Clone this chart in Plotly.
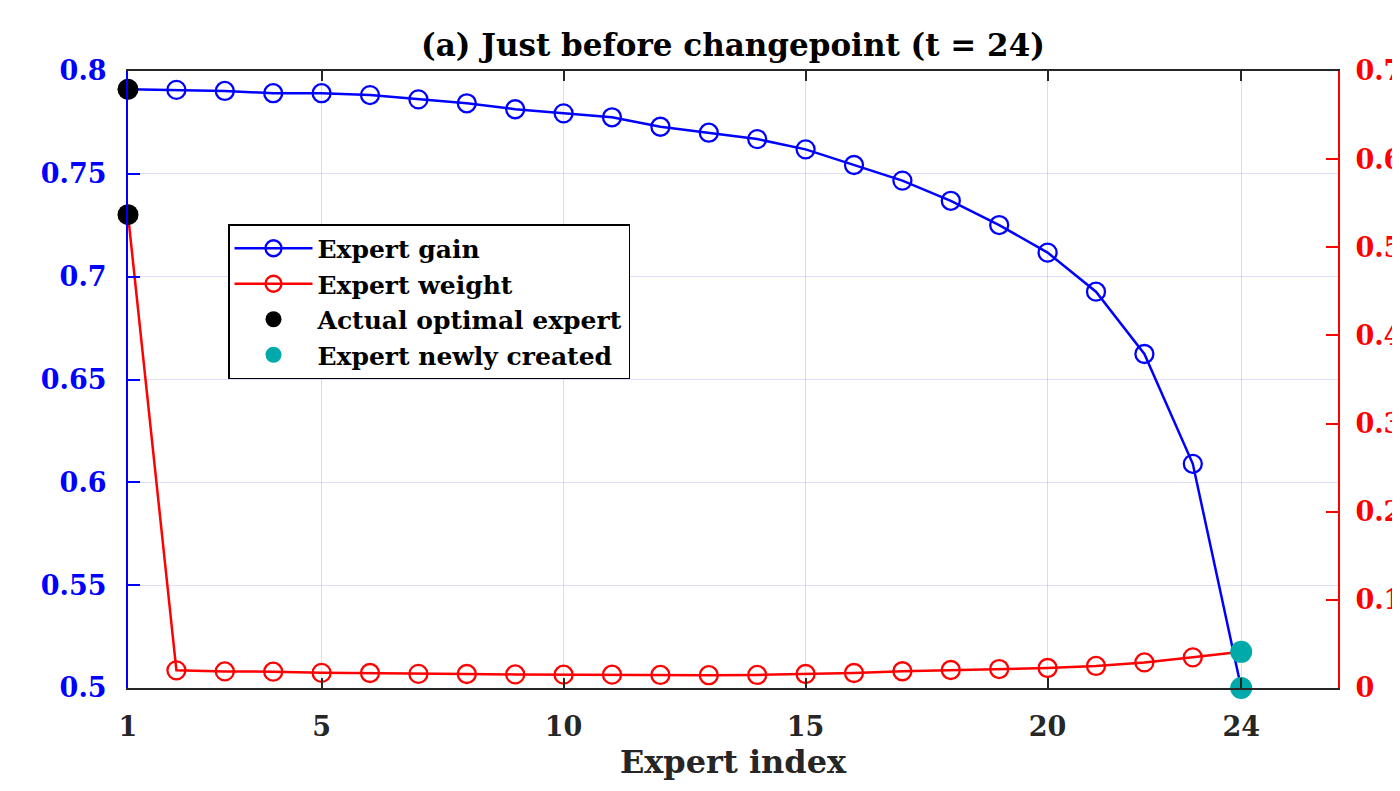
import plotly.graph_objects as go

expert_index = list(range(1, 25))
expert_gain = [0.7911, 0.7908, 0.7903, 0.7892, 0.7892, 0.7883, 0.7862, 0.7843, 0.7814, 0.7794,
               0.7775, 0.7729, 0.7700, 0.7669, 0.7619, 0.7543, 0.7467, 0.7369, 0.7251, 0.7117,
               0.6927, 0.6624, 0.6090, 0.5000]
expert_weight = [0.537, 0.0200, 0.0188, 0.0185, 0.0172, 0.0170, 0.0160, 0.0159, 0.0154, 0.0151,
                 0.0151, 0.0148, 0.0145, 0.0148, 0.0159, 0.0170, 0.0190, 0.0204, 0.0215, 0.0227,
                 0.0250, 0.0290, 0.0348, 0.0410]
optimal_idx = [1]
new_idx = [24]

x_ticks = [1, 5, 10, 15, 20, 24]
y_ticks = [0.5, 0.55, 0.6, 0.65, 0.7, 0.75, 0.8]
y_tick_text = ["0.5", "0.55", "0.6", "0.65", "0.7", "0.75", "0.8"]
y2_ticks = [0, 0.1, 0.2, 0.3, 0.4, 0.5, 0.6, 0.7]
y2_tick_text = ["0", "0.1", "0.2", "0.3", "0.4", "0.5", "0.6", "0.7"]

FONT = "DejaVu Serif"
BLUE = "#0000FF"
RED = "#FF0000"
DARK = "#262626"
CYAN = "rgb(0,170,170)"

fig = go.Figure()

fig.add_trace(go.Scatter(
    x=expert_index, y=expert_gain, name="Expert gain", mode="lines+markers",
    line=dict(color=BLUE, width=2.5),
    marker=dict(symbol="circle-open", size=18, color=BLUE, line=dict(width=2.3, color=BLUE)),
    yaxis="y", cliponaxis=False))
fig.add_trace(go.Scatter(
    x=expert_index, y=expert_weight, name="Expert weight", mode="lines+markers",
    line=dict(color=RED, width=2.5),
    marker=dict(symbol="circle-open", size=18, color=RED, line=dict(width=2.3, color=RED)),
    yaxis="y2", cliponaxis=False))

opt_gain = [expert_gain[i - 1] for i in optimal_idx]
opt_weight = [expert_weight[i - 1] for i in optimal_idx]
new_gain = [expert_gain[i - 1] for i in new_idx]
new_weight = [expert_weight[i - 1] for i in new_idx]

fig.add_trace(go.Scatter(
    x=optimal_idx, y=opt_gain, name="Actual optimal expert", mode="markers",
    marker=dict(symbol="circle", size=21, color="black"), yaxis="y",
    cliponaxis=False, legendgroup="opt"))
fig.add_trace(go.Scatter(
    x=optimal_idx, y=opt_weight, name="Actual optimal expert", mode="markers",
    marker=dict(symbol="circle", size=21, color="black"), yaxis="y2",
    cliponaxis=False, legendgroup="opt", showlegend=False))
fig.add_trace(go.Scatter(
    x=new_idx, y=new_gain, name="Expert newly created", mode="markers",
    marker=dict(symbol="circle", size=22, color=CYAN), yaxis="y",
    cliponaxis=False, legendgroup="new"))
fig.add_trace(go.Scatter(
    x=new_idx, y=new_weight, name="Expert newly created", mode="markers",
    marker=dict(symbol="circle", size=22, color=CYAN), yaxis="y2",
    cliponaxis=False, legendgroup="new", showlegend=False))

fig.update_layout(
    width=1400, height=791,
    margin=dict(l=120, r=70, t=63, b=111, autoexpand=False),
    paper_bgcolor="white", plot_bgcolor="white",
    font=dict(family=FONT, size=26, color=DARK, weight="bold"),
    title=dict(text="(a) Just before changepoint (t = 24)", x=0.5, xref="paper",
               xanchor="center", y=1 - 37 / 791, yref="container", yanchor="middle",
               font=dict(family=FONT, size=31, color="black", weight="bold")),
    xaxis=dict(range=[1, 26], tickvals=x_ticks, ticktext=[str(v) for v in x_ticks],
               ticks="inside", ticklen=10, tickwidth=1.5, tickcolor=DARK,
               showline=True, linecolor=DARK, linewidth=2, mirror="ticks",
               showgrid=True, gridcolor="rgba(0,0,0,0.13)", gridwidth=1,
               zeroline=False, automargin=False,
               tickfont=dict(family=FONT, size=27, color=DARK, weight="bold"),
               ticklabelstandoff=14,
               title=dict(text="Expert index", standoff=9,
                          font=dict(family=FONT, size=32, color=DARK, weight="bold"))),
    yaxis=dict(range=[0.5, 0.8], tickvals=y_ticks, ticktext=y_tick_text,
               ticks="inside", ticklen=12, tickwidth=1.5, tickcolor=BLUE,
               showline=True, linecolor=BLUE, linewidth=2,
               showgrid=True, gridcolor="rgba(0,0,255,0.13)", gridwidth=1,
               zeroline=False, automargin=False, ticklabelstandoff=14,
               tickfont=dict(family=FONT, size=27, color=BLUE, weight="bold")),
    yaxis2=dict(range=[0, 0.7], tickvals=y2_ticks, ticktext=y2_tick_text,
                overlaying="y", side="right", anchor="x",
                ticks="inside", ticklen=12, tickwidth=1.5, tickcolor=RED,
                showline=True, linecolor=RED, linewidth=2,
                showgrid=False, zeroline=False, automargin=False, ticklabelstandoff=10,
                tickfont=dict(family=FONT, size=27, color=RED, weight="bold")),
    legend=dict(x=(228 - 128) / 1210, y=(688 - 224) / 617, xanchor="left", yanchor="top",
                bgcolor="white", bordercolor="black", borderwidth=1.5,
                font=dict(family=FONT, size=25, color="black", weight="bold"),
                tracegroupgap=0, itemwidth=78),
    showlegend=True,
)

fig.write_html("out.html")
